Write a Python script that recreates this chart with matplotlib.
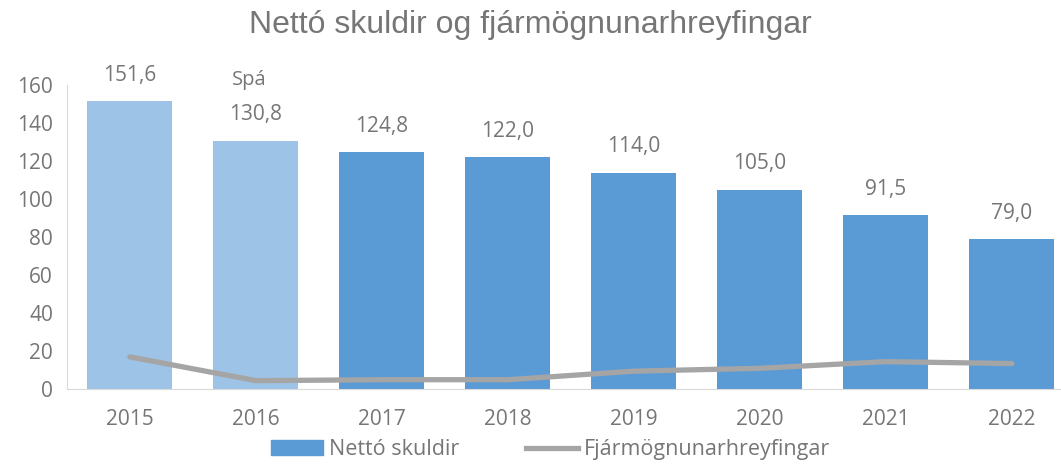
import matplotlib
matplotlib.use("Agg")
import matplotlib.pyplot as plt
from matplotlib.patches import Patch
from matplotlib.lines import Line2D

years = ["2015", "2016", "2017", "2018", "2019", "2020", "2021", "2022"]
net_debt = [151.6, 130.8, 124.8, 122.0, 114.0, 105.0, 91.5, 79.0]
financing = [17.0, 4.5, 5.0, 5.0, 9.5, 11.0, 14.5, 13.5]
forecast_note = "Spá"

light_blue = "#9DC3E6"
blue = "#5B9BD5"
gray_line = "#A5A5A5"
txt = "#767676"

plt.rcParams['font.family'] = ['Open Sans', 'DejaVu Sans']

fig = plt.figure(figsize=(10.61, 4.65), dpi=100)
ax = fig.add_axes([0.063, 0.163, 0.937, 0.654])

x = list(range(len(years)))
colors = [light_blue, light_blue] + [blue] * (len(years) - 2)
bars = ax.bar(x, net_debt, width=0.675, color=colors, zorder=2)
ax.plot(x, financing, color=gray_line, lw=3.8, solid_capstyle='round', zorder=3)

for xi, v in zip(x, net_debt):
    ax.annotate(f"{v:.1f}".replace(".", ","), (xi, v), xytext=(0, 11), textcoords="offset points",
                ha="center", va="bottom", fontsize=15, color=txt, annotation_clip=False)
ax.annotate(forecast_note, (0.95, 151.6), xytext=(0, 8), textcoords="offset points",
            ha="center", va="bottom", fontsize=14.5, color=txt, annotation_clip=False)

ax.set_xlim(-0.5, 7.39)
ax.set_ylim(0, 160)
ax.set_yticks(range(0, 161, 20))
ax.set_xticks(x)
ax.set_xticklabels(years)
ax.tick_params(axis='both', length=0, labelsize=15, labelcolor=txt)
ax.tick_params(axis='x', pad=14)
ax.tick_params(axis='y', pad=10)
for s in ["top", "right"]:
    ax.spines[s].set_visible(False)
ax.spines["left"].set_color("#D9D9D9")
ax.spines["bottom"].set_color("#D9D9D9")

fig.suptitle("Nettó skuldir og fjármögnunarhreyfingar", y=0.978, fontsize=23,
             color=txt, fontfamily=['Liberation Sans', 'DejaVu Sans'])

handles = [Patch(color=blue, label="Nettó skuldir"),
           Line2D([0], [0], color=gray_line, lw=3.8, label="Fjármögnunarhreyfingar")]
fig.legend(handles=handles, loc="center", bbox_to_anchor=(0.519, 0.033), ncol=2,
           frameon=False, fontsize=15.5, labelcolor=txt, handlelength=2.4,
           handletextpad=0.3, columnspacing=3.1)

fig.savefig("out.png", dpi=100)
